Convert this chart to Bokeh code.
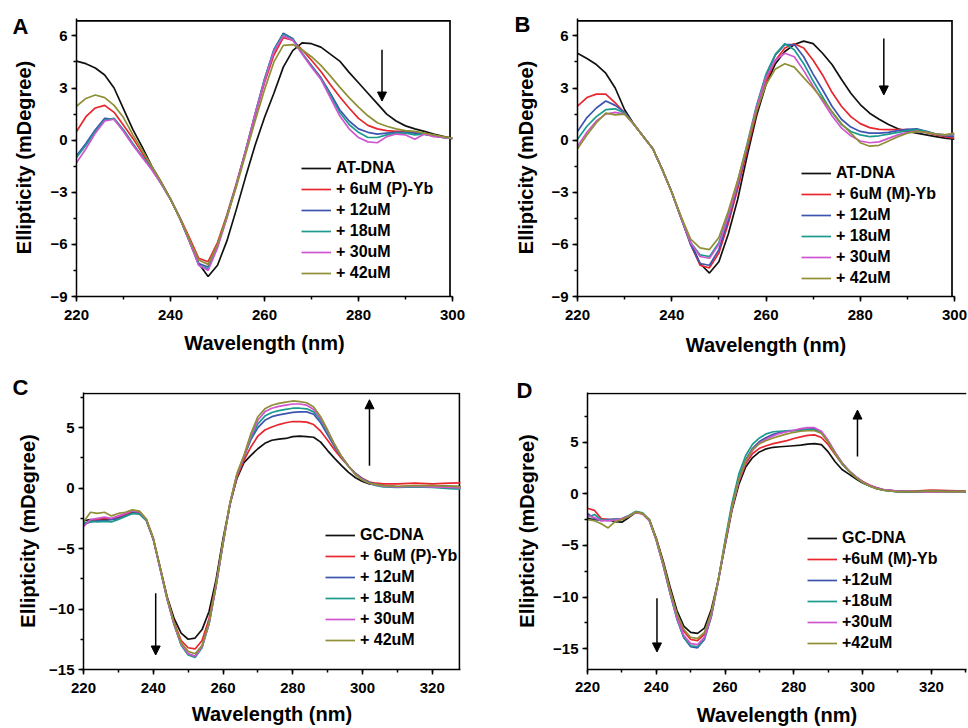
from bokeh.plotting import figure
from bokeh.layouts import column, row
from bokeh.models import (Range1d, SingleIntervalTicker, Legend, LegendItem,
                          Arrow, NormalHead, Title)
from bokeh.embed import file_html
from bokeh.resources import INLINE

FONT = "Liberation Sans"
COLORS = ["#111111", "#e8262e", "#3d55b0", "#1c9a8e", "#d055d0", "#8f8f35"]

# ---------------- data ----------------
wl_AB = list(range(220, 302, 2))
wl_CD = list(range(220, 308, 2)) + [310, 315, 320, 325, 330]

A_dna = [4.55, 4.4, 4.15, 3.75, 3.0, 1.8, 0.6, -0.4, -1.5, -2.4,
         -3.4, -4.5, -5.8, -7.1, -7.85, -7.2, -5.8, -4.0, -2.1, -0.3,
         1.3, 2.7, 4.2, 5.15, 5.6, 5.55, 5.35, 4.95, 4.55, 3.9,
         3.3, 2.7, 2.1, 1.5, 1.1, 0.82, 0.65, 0.5, 0.35, 0.22, 0.1]
A_6uM = [0.5, 1.35, 1.85, 2.0, 1.6, 0.85, 0.1, -0.75, -1.55, -2.45,
         -3.4, -4.45, -5.6, -6.8, -7.0, -5.9, -4.3, -2.5, -0.6, 1.4,
         3.3, 4.9, 5.9, 5.75, 5.2, 4.6, 3.95, 3.2, 2.5, 1.85,
         1.25, 0.85, 0.65, 0.55, 0.5, 0.5, 0.45, 0.35, 0.25, 0.15, 0.1]
A_12uM = [-0.9, -0.2, 0.6, 1.25, 1.2, 0.55, -0.25, -0.95, -1.65, -2.5,
          -3.4, -4.5, -5.75, -7.1, -7.3, -6.1, -4.4, -2.6, -0.6, 1.5,
          3.5, 5.2, 6.15, 5.85, 5.0, 4.3, 3.6, 2.7, 1.75, 1.1,
          0.65, 0.45, 0.35, 0.4, 0.45, 0.45, 0.4, 0.35, 0.25, 0.15, 0.1]
A_18uM = [-1.0, -0.3, 0.5, 1.15, 1.25, 0.6, -0.2, -0.95, -1.65, -2.5,
          -3.4, -4.5, -5.8, -7.2, -7.4, -6.1, -4.4, -2.6, -0.6, 1.5,
          3.5, 5.2, 6.1, 5.8, 5.0, 4.25, 3.55, 2.6, 1.6, 0.9,
          0.45, 0.15, 0.15, 0.3, 0.4, 0.4, 0.3, 0.35, 0.25, 0.15, 0.1]
A_30uM = [-1.3, -0.5, 0.4, 1.1, 1.2, 0.5, -0.3, -1.0, -1.7, -2.5,
          -3.4, -4.5, -5.8, -7.2, -7.5, -6.2, -4.5, -2.6, -0.6, 1.5,
          3.4, 5.1, 6.0, 5.75, 4.95, 4.2, 3.5, 2.45, 1.4, 0.65,
          0.15, -0.1, -0.15, 0.2, 0.35, 0.3, 0.05, 0.35, 0.2, 0.15, 0.1]
A_42uM = [1.95, 2.4, 2.6, 2.45, 2.0, 1.3, 0.3, -0.6, -1.5, -2.4,
          -3.4, -4.5, -5.7, -6.9, -7.15, -6.0, -4.4, -2.7, -0.8, 1.1,
          2.9, 4.5, 5.45, 5.5, 5.2, 4.8, 4.3, 3.7, 3.05, 2.45,
          1.9, 1.4, 1.0, 0.8, 0.65, 0.55, 0.5, 0.4, 0.3, 0.2, 0.1]

B_dna = [5.0, 4.7, 4.35, 3.85, 3.0, 1.75, 0.9, 0.2, -0.5, -1.7,
         -3.0, -4.5, -5.9, -7.1, -7.65, -7.0, -5.4, -3.4, -0.9, 1.4,
         3.2, 4.4, 5.1, 5.5, 5.7, 5.55, 5.0, 4.35, 3.5, 2.7,
         2.05, 1.55, 1.2, 0.9, 0.65, 0.5, 0.4, 0.3, 0.2, 0.12, 0.05]
B_6uM = [1.95, 2.45, 2.65, 2.65, 2.15, 1.55, 0.9, 0.2, -0.5, -1.7,
         -3.0, -4.5, -6.0, -7.2, -7.35, -6.5, -4.8, -2.8, -0.6, 1.6,
         3.4, 4.6, 5.3, 5.55, 5.3, 4.6, 3.75, 2.75, 1.95, 1.35,
         0.95, 0.72, 0.62, 0.6, 0.6, 0.6, 0.55, 0.45, 0.3, 0.2, 0.1]
B_12uM = [0.5, 1.3, 1.85, 2.25, 2.0, 1.6, 0.9, 0.2, -0.5, -1.7,
          -3.0, -4.5, -6.0, -7.1, -7.2, -6.3, -4.6, -2.6, -0.4, 1.9,
          3.7, 4.9, 5.5, 5.5, 4.8, 3.8, 2.9, 1.95, 1.2, 0.75,
          0.5, 0.4, 0.4, 0.45, 0.55, 0.62, 0.65, 0.5, 0.35, 0.25, 0.2]
B_18uM = [0.05, 0.8, 1.35, 1.75, 1.8, 1.55, 0.9, 0.2, -0.5, -1.7,
          -3.0, -4.5, -5.9, -6.6, -6.7, -5.9, -4.3, -2.4, -0.2, 2.0,
          3.8, 4.95, 5.55, 5.2, 4.4, 3.4, 2.5, 1.6, 0.9, 0.5,
          0.3, 0.2, 0.25, 0.35, 0.45, 0.55, 0.6, 0.5, 0.35, 0.3, 0.3]
B_30uM = [-0.35, 0.45, 1.1, 1.5, 1.6, 1.5, 0.9, 0.2, -0.5, -1.7,
          -3.0, -4.5, -5.9, -6.7, -6.8, -6.0, -4.4, -2.5, -0.3, 1.9,
          3.6, 4.6, 5.0, 4.8, 4.0, 3.1, 2.25, 1.4, 0.7, 0.25,
          -0.05, -0.15, -0.1, 0.1, 0.3, 0.45, 0.5, 0.45, 0.35, 0.3, 0.35]
B_42uM = [-0.5, 0.3, 1.0, 1.55, 1.45, 1.5, 0.9, 0.2, -0.5, -1.7,
          -3.0, -4.4, -5.7, -6.2, -6.3, -5.6, -4.1, -2.3, -0.3, 1.7,
          3.2, 4.1, 4.4, 4.2, 3.6, 3.0, 2.35, 1.65, 0.95, 0.4,
          -0.15, -0.35, -0.3, -0.05, 0.2, 0.4, 0.5, 0.45, 0.35, 0.3, 0.4]

C_dna = [-2.7, -2.6, -2.65, -2.6, -2.6, -2.5, -2.3, -2.0, -1.95, -2.6,
         -4.2, -6.6, -9.0, -10.8, -12.0, -12.5, -12.4, -11.7, -10.2, -7.6,
         -4.2, -1.3, 0.8, 2.1, 2.7, 3.25, 3.7, 3.95, 4.05, 4.1,
         4.25, 4.3, 4.25, 4.2, 3.8, 3.1, 2.45, 1.85, 1.3, 0.85,
         0.55, 0.35, 0.25, 0.2, 0.1, 0.15, 0.2, 0.15, 0.1]
C_6uM = [-3.0, -2.7, -2.6, -2.5, -2.55, -2.4, -2.2, -1.9, -2.0, -2.6,
         -4.2, -6.6, -9.1, -11.1, -12.6, -13.2, -13.3, -12.6, -10.8, -7.9,
         -4.5, -1.4, 0.9, 2.3, 3.4, 4.3, 4.8, 5.05, 5.25, 5.4,
         5.5, 5.5, 5.45, 5.25, 4.7, 3.95, 3.15, 2.45, 1.8, 1.2,
         0.8, 0.5, 0.4, 0.35, 0.35, 0.4, 0.35, 0.4, 0.45]
C_12uM = [-3.0, -2.8, -2.7, -2.7, -2.6, -2.5, -2.3, -2.1, -2.1, -2.65,
          -4.2, -6.7, -9.2, -11.3, -12.9, -13.7, -13.9, -13.1, -11.2, -8.1,
          -4.6, -1.3, 1.1, 2.6, 4.0, 5.0, 5.6, 5.9, 6.05, 6.15,
          6.25, 6.3, 6.3, 6.1, 5.4, 4.4, 3.4, 2.55, 1.8, 1.2,
          0.75, 0.45, 0.3, 0.2, 0.1, 0.1, 0.15, 0.1, 0.0]
C_18uM = [-2.9, -2.75, -2.8, -2.75, -2.8, -2.6, -2.35, -2.1, -2.15, -2.7,
          -4.2, -6.7, -9.2, -11.3, -13.0, -13.8, -14.0, -13.2, -11.2, -8.1,
          -4.6, -1.3, 1.1, 2.6, 4.1, 5.3, 5.95, 6.25, 6.4, 6.5,
          6.6, 6.6, 6.55, 6.3, 5.6, 4.6, 3.55, 2.6, 1.8, 1.15,
          0.7, 0.4, 0.2, 0.1, 0.05, 0.1, 0.05, -0.05, -0.1]
C_30uM = [-3.2, -2.6, -2.5, -2.4, -2.5, -2.3, -2.1, -1.9, -1.95, -2.6,
          -4.2, -6.7, -9.2, -11.3, -12.9, -13.7, -13.9, -13.1, -11.2, -8.1,
          -4.6, -1.3, 1.1, 2.6, 4.3, 5.6, 6.3, 6.6, 6.75, 6.85,
          6.95, 6.95, 6.85, 6.5, 5.75, 4.7, 3.6, 2.6, 1.8, 1.15,
          0.7, 0.4, 0.25, 0.15, 0.1, 0.15, 0.1, 0.05, 0.0]
C_42uM = [-2.8, -2.0, -2.1, -2.0, -2.3, -2.1, -2.0, -1.8, -1.9, -2.55,
          -4.1, -6.6, -9.1, -11.2, -12.8, -13.5, -13.7, -13.0, -11.1, -8.0,
          -4.5, -1.2, 1.2, 2.7, 4.5, 5.9, 6.55, 6.85, 7.0, 7.1,
          7.2, 7.15, 7.05, 6.7, 5.9, 4.8, 3.6, 2.6, 1.8, 1.1,
          0.65, 0.4, 0.3, 0.2, 0.15, 0.2, 0.2, 0.15, 0.1]

D_dna = [-2.4, -2.5, -2.5, -2.5, -2.7, -2.75, -2.3, -1.8, -1.9, -2.5,
         -4.3, -6.5, -9.0, -11.3, -12.8, -13.4, -13.5, -13.0, -11.2, -8.4,
         -5.0, -1.6, 0.9, 2.6, 3.5, 4.05, 4.35, 4.5, 4.55, 4.6,
         4.65, 4.7, 4.8, 4.85, 4.75, 4.05, 3.1, 2.35, 1.9, 1.45,
         1.05, 0.75, 0.55, 0.35, 0.2, 0.15, 0.25, 0.2, 0.2]
D_6uM = [-1.4, -1.6, -2.4, -2.5, -2.5, -2.4, -2.2, -1.8, -1.95, -2.6,
         -4.4, -6.7, -9.3, -11.7, -13.3, -14.1, -14.2, -13.6, -11.6, -8.4,
         -4.8, -1.4, 1.2, 2.9, 3.9, 4.4, 4.65, 4.85, 5.0, 5.15,
         5.35, 5.5, 5.65, 5.7, 5.45, 4.75, 3.8, 2.9, 2.2, 1.65,
         1.2, 0.85, 0.6, 0.4, 0.25, 0.25, 0.35, 0.3, 0.25]
D_12uM = [-1.9, -2.4, -2.6, -2.5, -2.45, -2.45, -2.2, -1.75, -1.9, -2.6,
          -4.5, -6.9, -9.6, -12.1, -13.9, -14.8, -14.9, -14.1, -11.9, -8.5,
          -4.7, -1.2, 1.5, 3.3, 4.4, 5.05, 5.45, 5.75, 5.95, 6.05,
          6.1, 6.2, 6.25, 6.3, 6.0, 5.1, 4.0, 3.0, 2.25, 1.65,
          1.15, 0.8, 0.55, 0.4, 0.25, 0.2, 0.2, 0.2, 0.2]
D_18uM = [-2.3, -2.0, -2.5, -2.6, -2.5, -2.4, -2.1, -1.7, -1.85, -2.55,
          -4.5, -6.9, -9.6, -12.1, -13.9, -14.7, -14.8, -14.0, -11.8, -8.4,
          -4.5, -0.9, 1.9, 3.7, 4.8, 5.4, 5.8, 6.0, 6.05, 6.1,
          6.15, 6.15, 6.2, 6.2, 5.9, 5.0, 3.9, 2.9, 2.2, 1.6,
          1.1, 0.75, 0.5, 0.35, 0.2, 0.2, 0.25, 0.2, 0.2]
D_30uM = [-2.1, -2.3, -2.6, -2.6, -2.55, -2.4, -2.15, -1.8, -1.95, -2.6,
          -4.5, -6.9, -9.5, -12.0, -13.7, -14.5, -14.6, -13.9, -11.8, -8.5,
          -4.8, -1.4, 1.3, 3.1, 4.2, 4.9, 5.3, 5.6, 5.85, 6.0,
          6.15, 6.3, 6.4, 6.4, 6.05, 5.15, 4.0, 3.0, 2.25, 1.65,
          1.15, 0.8, 0.55, 0.4, 0.25, 0.2, 0.15, 0.2, 0.2]
D_42uM = [-2.5, -2.6, -2.9, -3.3, -2.7, -2.5, -2.2, -1.75, -1.9, -2.55,
          -4.4, -6.7, -9.3, -11.6, -13.1, -13.9, -14.0, -13.4, -11.5, -8.4,
          -4.7, -1.3, 1.4, 3.2, 4.3, 4.85, 5.15, 5.4, 5.6, 5.8,
          5.95, 6.05, 6.1, 6.1, 5.85, 5.0, 3.9, 2.95, 2.2, 1.6,
          1.1, 0.75, 0.5, 0.35, 0.2, 0.2, 0.25, 0.2, 0.2]

labels_A = ["AT-DNA", "+ 6uM (P)-Yb", "+ 12uM", "+ 18uM", "+ 30uM", "+ 42uM"]
labels_B = ["AT-DNA", "+ 6uM (M)-Yb", "+ 12uM", "+ 18uM", "+ 30uM", "+ 42uM"]
labels_C = ["GC-DNA", "+ 6uM (P)-Yb", "+ 12uM", "+ 18uM", "+ 30uM", "+ 42uM"]
labels_D = ["GC-DNA", "+6uM (M)-Yb", "+12uM", "+18uM", "+30uM", "+42uM"]

# arrows: (x, y_start, y_end)
arrows_A = [(285, 5.2, 2.25)]
arrows_B = [(285, 5.85, 2.6)]
arrows_C = [(302, 1.85, 7.3), (240.7, -8.7, -13.8)]
arrows_D = [(298.5, 3.6, 8.1), (240.2, -10.1, -15.3)]


def panel(x, series, labels, size, xr, yr, yint, borders, legend_loc, letter,
          arrows, x_lab_standoff, x_tick_standoff, y_lab_standoff, box_right=True,
          inset=1.0):
    left, right, top, bottom = borders
    p = figure(width=size[0], height=size[1], x_range=Range1d(*xr), y_range=Range1d(*yr),
               toolbar_location=None, output_backend="svg", title=None,
               min_border_left=left, min_border_right=right,
               min_border_top=top, min_border_bottom=bottom,
               background_fill_color="white", border_fill_alpha=0)
    p.xgrid.visible = False
    p.ygrid.visible = False
    p.outline_line_color = None

    # closing frame lines (top and right), drawn just inside the frame
    fw = size[0] - left - right
    fh = size[1] - top - bottom
    dx = inset * (xr[1] - xr[0]) / fw
    dy = inset * (yr[1] - yr[0]) / fh
    if box_right:
        p.line([xr[0], xr[1] - dx, xr[1] - dx], [yr[1] - dy, yr[1] - dy, yr[0]],
               line_color="black", line_width=1.7, line_join="miter")
    else:
        p.line([xr[0], xr[1]], [yr[1] - dy, yr[1] - dy], line_color="black", line_width=1.7)

    rs = []
    for ys, c in zip(series, COLORS):
        rs.append(p.line(x, ys, line_color=c, line_width=1.7))

    p.xaxis.ticker = SingleIntervalTicker(interval=20, num_minor_ticks=2)
    p.yaxis.ticker = SingleIntervalTicker(interval=yint, num_minor_ticks=2)
    p.xaxis.axis_label = "Wavelength (nm)"
    p.yaxis.axis_label = "Ellipticity (mDegree)"
    for ax in (p.xaxis[0], p.yaxis[0]):
        ax.axis_line_width = 1.5
        ax.axis_line_color = "black"
        ax.major_tick_line_width = 1.5
        ax.minor_tick_line_width = 1.5
        ax.major_tick_line_color = "black"
        ax.minor_tick_line_color = "black"
        ax.major_tick_out = 5
        ax.major_tick_in = 0
        ax.minor_tick_out = 3
        ax.minor_tick_in = 0
        ax.major_label_text_font = FONT
        ax.major_label_text_font_style = "bold"
        ax.major_label_text_font_size = "15px"
        ax.major_label_text_color = "black"
        ax.axis_label_text_font = FONT
        ax.axis_label_text_font_style = "bold"
        ax.axis_label_text_font_size = "20px"
        ax.axis_label_text_color = "black"
    p.xaxis.axis_label_standoff = x_lab_standoff
    p.xaxis.major_label_standoff = x_tick_standoff
    p.yaxis.axis_label_standoff = y_lab_standoff
    p.yaxis.major_label_standoff = 4

    items = [LegendItem(label=l, renderers=[r]) for l, r in zip(labels, rs)]
    leg = Legend(items=items, location=legend_loc, padding=0, margin=0,
                 spacing=1, label_height=20, glyph_height=20, glyph_width=30,
                 label_standoff=5, border_line_alpha=0, background_fill_alpha=0,
                 label_text_font=FONT, label_text_font_style="bold",
                 label_text_font_size="16px", label_text_color="black")
    p.add_layout(leg)

    for ax_x, y0, y1 in arrows:
        p.add_layout(Arrow(end=NormalHead(size=9, fill_color="black", line_color="black",
                                          line_width=1),
                           x_start=ax_x, y_start=y0, x_end=ax_x, y_end=y1,
                           line_width=1.5, line_color="black"))

    text, off, standoff = letter
    p.add_layout(Title(text=text, align="left", offset=off, standoff=standoff,
                       text_font=FONT, text_font_style="bold", text_font_size="22px",
                       text_color="black", vertical_align="bottom"), "above")
    return p


pA = panel(wl_AB, [A_dna, A_6uM, A_12uM, A_18uM, A_30uM, A_42uM], labels_A, (484, 364),
           (220, 300), (-9, 7), 3, (76, 32, 15, 68), (225, 13), ("A", -64, -41),
           arrows_A, 9, 8, 12, inset=2.5)
pB = panel(wl_AB, [B_dna, B_6uM, B_12uM, B_18uM, B_30uM, B_42uM], labels_B, (483, 364),
           (220, 300), (-9, 7), 3, (93, 13, 18, 65), (224, 8), ("B", -63, -37),
           arrows_B, 11, 8, 11, inset=2.5)
pC = panel(wl_CD, [C_dna, C_6uM, C_12uM, C_18uM, C_30uM, C_42uM], labels_C, (484, 364),
           (220, 328.1), (-15, 7.9), 5, (83, 24, 28, 58), (242, 19), ("C", -71, -15),
           arrows_C, 7, 8, 7)
pD = panel(wl_CD, [D_dna, D_6uM, D_12uM, D_18uM, D_30uM, D_42uM], labels_D, (483, 364),
           (220, 330.2), (-17, 9.8), 5, (103, 1, 24, 59), (220, 16), ("D", -71, -21),
           arrows_D, 9, 7, 12, box_right=False)

layout = column(row(pA, pB), row(pC, pD))
open("out.html", "w").write(file_html(layout, INLINE))
